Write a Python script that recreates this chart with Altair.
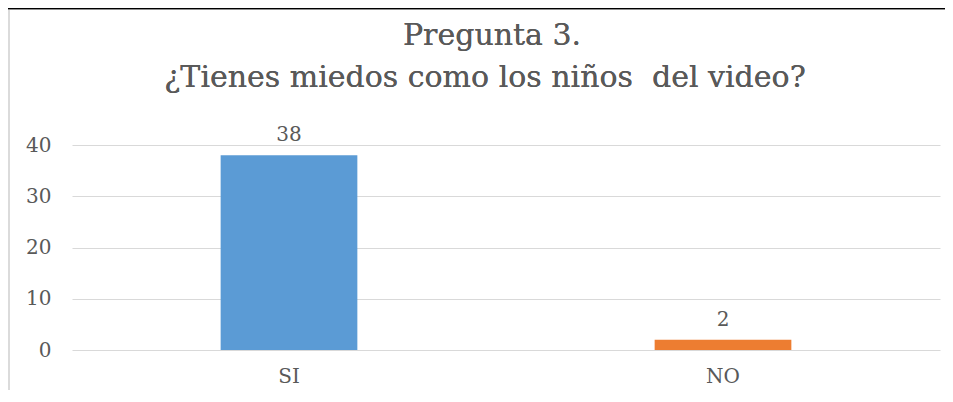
import altair as alt
import pandas as pd

categories = ["SI", "NO"]
values = [38, 2]
colors = ["#5B9BD5", "#ED7D31"]
title_lines = ["Pregunta 3.", "¿Tienes miedos como los niños\u00a0 del video?"]
y_ticks = [0, 10, 20, 30, 40]

FONT = "DejaVu Serif"
TEXT = "#595959"
W, H = 868, 205

df = pd.DataFrame({"cat": categories, "val": values})

x_enc = alt.X("cat:N", sort=categories, title=None,
              scale=alt.Scale(paddingInner=0, paddingOuter=0),
              axis=alt.Axis(labelAngle=0, labelFont=FONT, labelFontSize=20,
                            labelColor=TEXT, ticks=False, domain=False,
                            labelPadding=16, grid=False))
y_enc = alt.Y("val:Q", title=None,
              scale=alt.Scale(domain=[0, 40], nice=False),
              axis=alt.Axis(values=y_ticks, labelFont=FONT, labelFontSize=20,
                            labelColor=TEXT, ticks=False, domain=False,
                            labelPadding=21, gridColor="#D9D9D9", gridWidth=1.2))

bars = alt.Chart(df).mark_bar(width=alt.RelativeBandSize(0.315)).encode(
    x=x_enc, y=y_enc,
    color=alt.Color("cat:N", scale=alt.Scale(domain=categories, range=colors), legend=None),
)

labels = alt.Chart(df).mark_text(font=FONT, fontSize=20, color=TEXT, baseline="bottom", dy=-10).encode(
    x=alt.X("cat:N", sort=categories), y="val:Q", text="val:Q"
)

title1 = alt.Chart(df).mark_text(font=FONT, fontSize=30, color=TEXT, align="center", baseline="alphabetic").encode(
    x=alt.value(420), y=alt.value(-100), text=alt.value(title_lines[0])
)
title2 = alt.Chart(df).mark_text(font=FONT, fontSize=30, color=TEXT, align="center", baseline="alphabetic").encode(
    x=alt.value(413), y=alt.value(-58), text=alt.value(title_lines[1])
)

top_line = alt.Chart(df).mark_rule(color="black", strokeWidth=1.5).encode(
    x=alt.value(-64), x2=alt.value(873), y=alt.value(-136.5)
)
left_line = alt.Chart(df).mark_rule(color="#D9D9D9", strokeWidth=1.5).encode(
    x=alt.value(-63), y=alt.value(-135), y2=alt.value(260)
)

chart = alt.layer(bars, labels, title1, title2, top_line, left_line).properties(
    width=W, height=H,
    autosize=alt.AutoSizeParams(type="none"),
    padding={"left": 64, "top": 137, "right": 5, "bottom": 40},
).configure_view(stroke=None)

chart.save("out.html", embed_options={"renderer": "svg", "actions": False})
